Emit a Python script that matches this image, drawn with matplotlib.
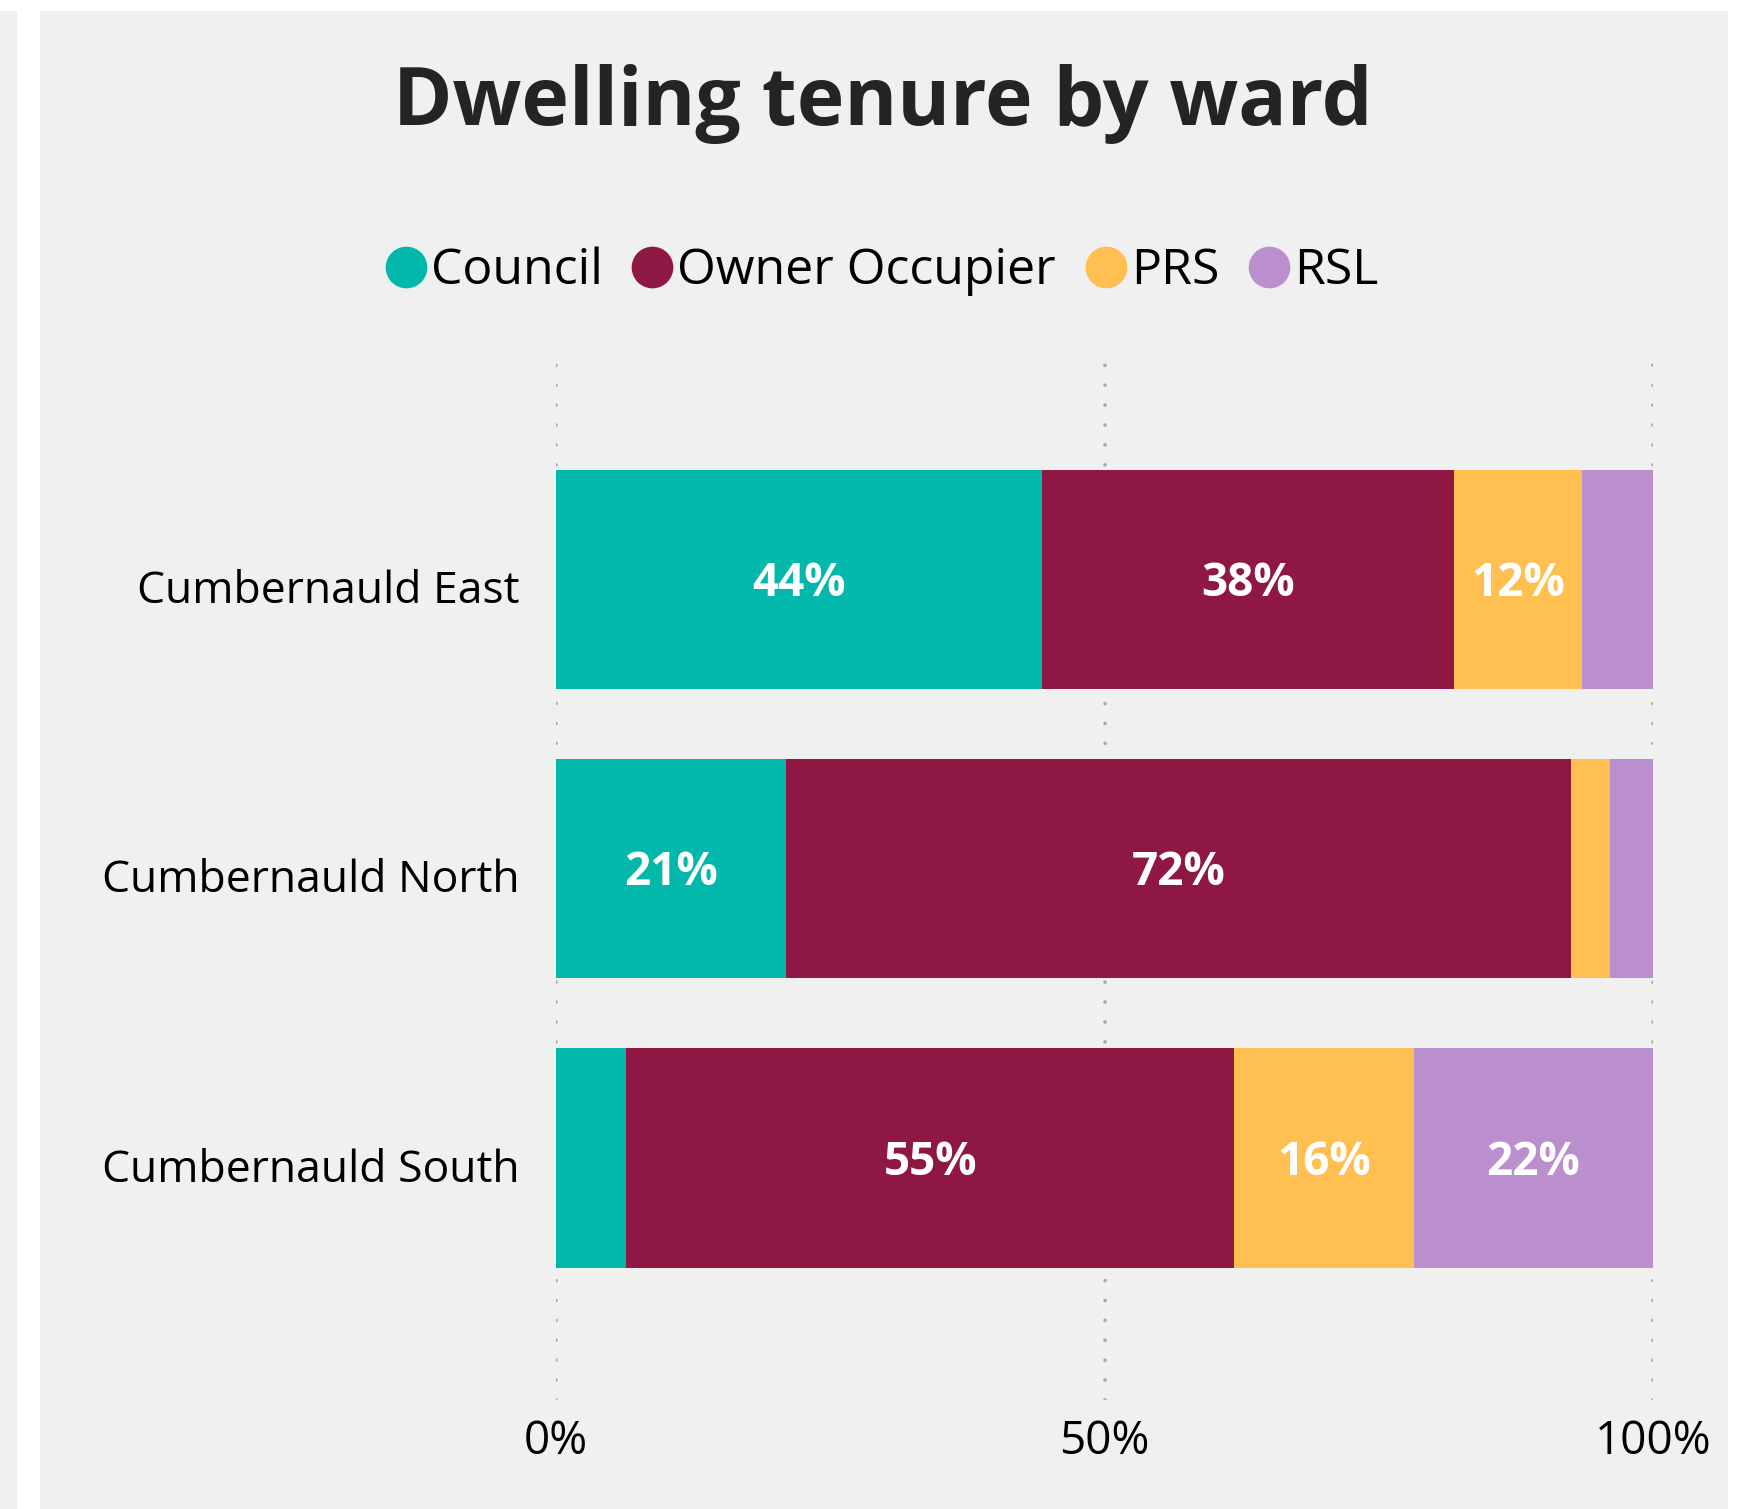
import numpy as np
import matplotlib.pyplot as plt
import matplotlib.transforms as mtransforms
from matplotlib.lines import Line2D
from matplotlib.patches import Rectangle

plt.rcParams['font.family'] = ['Open Sans', 'DejaVu Sans']

wards = ['Cumbernauld East', 'Cumbernauld North', 'Cumbernauld South']
tenures = ['Council', 'Owner Occupier', 'PRS', 'RSL']
council = [44.3, 21.0, 6.4]
owner = [37.6, 71.5, 55.4]
prs = [11.6, 3.6, 16.4]
rsl = [6.5, 3.9, 21.8]
colours = ['#02B8AB', '#8E1744', '#FFC051', '#BB8FCE']

series = [council, owner, prs, rsl]

fig = plt.figure(figsize=(17.42, 15.09), dpi=100)
fig.patch.set_facecolor('white')
# background panels
fig.add_artist(Rectangle((0, 0), 17 / 1742, 1 - 11 / 1509, transform=fig.transFigure,
                         facecolor='#F0F0F0', edgecolor='none', zorder=0))
fig.add_artist(Rectangle((40 / 1742, 0), (1728 - 40) / 1742, 1 - 11 / 1509, transform=fig.transFigure,
                         facecolor='#F0F0F0', edgecolor='none', zorder=0))

ax = fig.add_axes([0.3192, 0.0722, 0.6297, 0.6925])
ax.set_facecolor('none')

shift = mtransforms.ScaledTranslation(0, -3 / 72, fig.dpi_scale_trans)

y = np.arange(len(wards))
left = np.zeros(len(wards))
for vals, col, name in zip(series, colours, tenures):
    vals = np.array(vals)
    ax.barh(y, vals, left=left, height=0.757, color=col, label=name, zorder=2)
    for yi, l, v in zip(y, left, vals):
        if v >= 10:
            ax.text(l + v / 2, yi, f'{round(v):.0f}%', ha='center', va='center',
                    color='white', fontsize=33, fontweight='bold', zorder=3,
                    transform=ax.transData + shift)
    left = left + vals

ax.set_xlim(0, 100)
ax.set_ylim(2.836, -0.774)
ax.set_xticks([0, 50, 100])
ax.set_xticklabels(['0%', '50%', '100%'])
ax.set_yticks(y)
ax.set_yticklabels(wards)
ax.tick_params(axis='both', length=0, labelsize=33, colors='black')
ax.tick_params(axis='y', labelsize=32, pad=26)
ax.tick_params(axis='x', pad=14)
for lab in ax.get_yticklabels():
    lab.set_transform(lab.get_transform() + mtransforms.ScaledTranslation(0, -5 / 72, fig.dpi_scale_trans))
for s in ax.spines.values():
    s.set_visible(False)
for xv in [0, 50, 100]:
    ax.axvline(xv, color='#A8A8A8', lw=2.6, ls=(0, (0.01, 5.5)), dash_capstyle='round', zorder=1)

fig.text(0.507, 0.931, 'Dwelling tenure by ward', ha='center', va='center',
         fontsize=58, fontweight='bold', color='#252423')

handles = [Line2D([], [], marker='o', ls='none', markersize=29, color=c) for c in colours]
fig.legend(handles, tenures, loc='center', bbox_to_anchor=(0.505, 0.820), ncol=4,
           frameon=False, fontsize=36, handletextpad=0.0, columnspacing=0.5,
           handlelength=1.0)

fig.savefig('out.png', dpi=100, facecolor=fig.get_facecolor())
